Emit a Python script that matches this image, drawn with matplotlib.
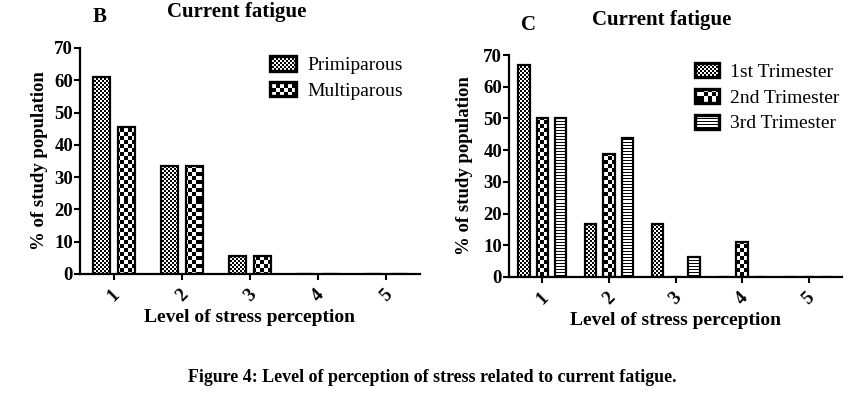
import warnings
import numpy as np
import matplotlib
matplotlib.use('Agg')
import matplotlib.pyplot as plt
import matplotlib.hatch as mhatch
from matplotlib.path import Path

warnings.filterwarnings('ignore')

levels = ['1', '2', '3', '4', '5']

# panel B
parity_labels = ['Primiparous', 'Multiparous']
primiparous = [61.1, 33.3, 5.6, 0, 0]
multiparous = [45.5, 33.3, 5.6, 0, 0]

# panel C
trimester_labels = ['1st Trimester', '2nd Trimester', '3rd Trimester']
trim1 = [66.7, 16.7, 16.7, 0, 0]
trim2 = [50.0, 38.9, 0, 11.1, 0]
trim3 = [50.0, 43.8, 6.3, 0, 0]


# prism-like fills: 'c' fine checker, 'k' coarse checker, 'h' horizontal stripes
# (hatch unit is 100 px at dpi 100, so everything below is pixel aligned)
class PrismFill(mhatch.HatchPatternBase):
    def __init__(self, hatch, density):
        self.rects = []
        for ch, n in (('c', 50), ('k', 25)):
            if ch in hatch:
                s = 1.0 / n
                self.rects += [(i * s, j * s, s, s) for i in range(n)
                               for j in range(n) if (i + j) % 2 == 0]
        if 'h' in hatch:
            self.rects += [(0, k * 0.03, 1, 0.01) for k in range(33)]
        self.num_vertices = len(self.rects) * 5

    def set_vertices_and_codes(self, vertices, codes):
        for n, (x, y, w, h) in enumerate(self.rects):
            vertices[5 * n:5 * n + 5] = [(x, y), (x + w, y), (x + w, y + h), (x, y + h), (x, y)]
            codes[5 * n:5 * n + 5] = [Path.MOVETO, Path.LINETO, Path.LINETO,
                                      Path.LINETO, Path.CLOSEPOLY]


mhatch._hatch_types.append(PrismFill)

plt.rcParams['font.family'] = ['Liberation Serif', 'DejaVu Serif']
plt.rcParams['hatch.linewidth'] = 0.0
plt.rcParams['hatch.color'] = 'black'

fig = plt.figure(figsize=(8.57, 3.94), dpi=100)
axB = fig.add_axes([0.0933, 0.3046, 0.3967, 0.5736])
axC = fig.add_axes([0.594, 0.2970, 0.3885, 0.5634])

x = np.arange(1, len(levels) + 1)


def style_axes(ax):
    for s in ['top', 'right']:
        ax.spines[s].set_visible(False)
    for s in ['left', 'bottom']:
        ax.spines[s].set_linewidth(1.6)
    ax.set_xlim(0.5, 5.5)
    ax.set_ylim(0, 70)
    ax.set_yticks(range(0, 71, 10))
    ax.set_xticks(x)
    ax.set_xticklabels(levels, rotation=45, ha='center')
    ax.tick_params(axis='both', direction='out', length=4, width=1.5, labelsize=13.5)
    ax.tick_params(axis='y', pad=1)
    ax.tick_params(axis='x', pad=5)
    for lab in ax.get_xticklabels() + ax.get_yticklabels():
        lab.set_fontweight('bold')
    ax.set_ylabel('% of study population', fontsize=13.5, fontweight='bold')
    ax.set_xlabel('Level of stress perception', fontsize=14, fontweight='bold', labelpad=3)


def legend(ax, ytop, hl):
    leg = ax.legend(loc='upper left', bbox_to_anchor=(0.507, ytop), frameon=False, fontsize=14,
                    handlelength=hl, handleheight=0.75, handletextpad=0.58, labelspacing=0.4)
    for p in leg.get_patches():
        p.set_linewidth(2.4)


# panel B
wB = 0.24
axB.bar(x - 0.185, primiparous, wB, facecolor='white', edgecolor='black',
        linewidth=1.6, hatch='c', label=parity_labels[0])
axB.bar(x + 0.185, multiparous, wB, facecolor='white', edgecolor='black',
        linewidth=1.6, hatch='k', label=parity_labels[1])
style_axes(axB)
axB.yaxis.set_label_coords(-0.095, 0.5)
legend(axB, 1.04, 1.35)

# panel C
wC = 0.17
axC.bar(x - 0.275, trim1, wC, facecolor='white', edgecolor='black',
        linewidth=1.6, hatch='c', label=trimester_labels[0])
axC.bar(x, trim2, wC, facecolor='white', edgecolor='black',
        linewidth=1.6, hatch='k', label=trimester_labels[1])
axC.bar(x + 0.275, trim3, wC, facecolor='white', edgecolor='black',
        linewidth=1.6, hatch='h', label=trimester_labels[2])
style_axes(axC)
axC.yaxis.set_label_coords(-0.108, 0.5)
legend(axC, 1.042, 1.2)

# panel letters and titles
fig.text(100 / 857, 1 - 17 / 394, 'B', fontsize=15, fontweight='bold', ha='center', va='center')
fig.text(237 / 857, 1 - 12 / 394, 'Current fatigue', fontsize=15, fontweight='bold',
         ha='center', va='center')
fig.text(528 / 857, 1 - 25 / 394, 'C', fontsize=15, fontweight='bold', ha='center', va='center')
fig.text(662 / 857, 1 - 20 / 394, 'Current fatigue', fontsize=15, fontweight='bold',
         ha='center', va='center')

fig.text(432 / 857, 1 - 378 / 394,
         'Figure 4: Level of perception of stress related to current fatigue.',
         fontsize=12.9, fontweight='bold', ha='center', va='center')

fig.savefig('out.png', dpi=100)
